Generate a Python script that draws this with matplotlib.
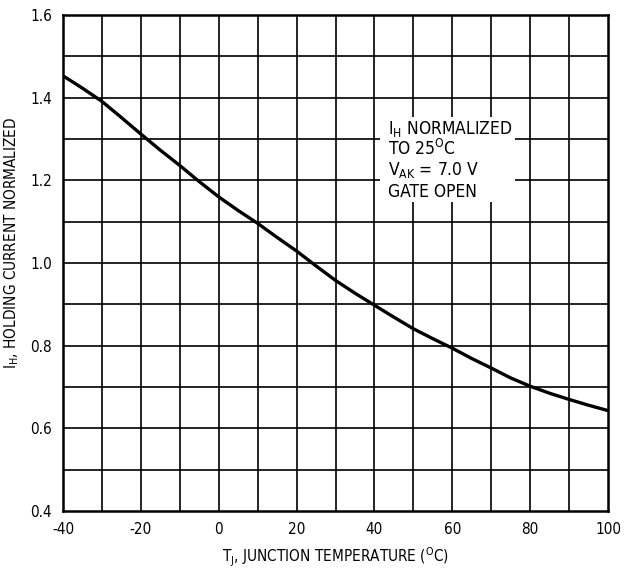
# Holding current vs junction temperature (normalized)

import matplotlib.pyplot as plt
from matplotlib.patches import Rectangle

# Data (every 5 deg)
temps = [-40, -35, -30, -25, -20, -15, -10, -5, 0, 5, 10, 15, 20, 25, 30,
         35, 40, 45, 50, 55, 60, 65, 70, 75, 80, 85, 90, 95, 100]
ih_norm = [1.453, 1.423, 1.391, 1.352, 1.312, 1.273, 1.236, 1.197, 1.160,
           1.127, 1.096, 1.062, 1.029, 0.993, 0.958, 0.927, 0.898, 0.869,
           0.841, 0.817, 0.794, 0.769, 0.746, 0.722, 0.702, 0.685, 0.670,
           0.656, 0.643]

x_ticks = [-40, -20, 0, 20, 40, 60, 80, 100]
y_ticks = [0.4, 0.6, 0.8, 1.0, 1.2, 1.4, 1.6]
note_lines = [r"I$_\mathregular{H}$ NORMALIZED",
              r"TO 25$^\mathregular{O}$C",
              r"V$_\mathregular{AK}$ = 7.0 V",
              "GATE OPEN"]

plt.rcParams['font.family'] = ['DejaVu Sans']
plt.rcParams['font.stretch'] = 'condensed'
plt.rcParams['mathtext.fontset'] = 'custom'
plt.rcParams['mathtext.rm'] = 'DejaVu Sans:stretch=condensed'

fig = plt.figure(figsize=(6.25, 5.71), dpi=100)
ax = fig.add_axes([0.1008, 0.105, 0.872, 0.8687])

# grid every 10 deg / 0.1
for gx in range(-30, 100, 10):
    ax.axvline(gx, color='black', lw=1.2, zorder=1)
for i in range(1, 12):
    ax.axhline(0.4 + i * 0.1, color='black', lw=1.2, zorder=1)

# white box behind the note
ax.add_patch(Rectangle((41.5, 1.148), 34.5, 0.206, facecolor='white',
                       edgecolor='none', zorder=2))

ax.plot(temps, ih_norm, color='black', lw=2.4, zorder=3)

ax.set_xlim(-40, 100)
ax.set_ylim(0.4, 1.6)
ax.set_xticks(x_ticks)
ax.set_xticklabels([str(t) for t in x_ticks])
ax.set_yticks(y_ticks)
ax.set_yticklabels(["%.1f" % t for t in y_ticks])
ax.tick_params(length=0, labelsize=11, pad=8)
for s in ax.spines.values():
    s.set_linewidth(1.8)

ax.set_xlabel(r"T$_\mathregular{J}$, JUNCTION TEMPERATURE ($^\mathregular{O}$C)",
              fontsize=11, labelpad=6)
ax.set_ylabel(r"I$_\mathregular{H}$, HOLDING CURRENT NORMALIZED",
              fontsize=11)
ax.yaxis.set_label_coords(-0.077, 0.54)

note_y = [1.324, 1.276, 1.225, 1.171]
for txt, ty in zip(note_lines, note_y):
    ax.text(43.5, ty, txt, fontsize=12.5, va='center', ha='left', zorder=4)

fig.savefig("out.png", dpi=100)
